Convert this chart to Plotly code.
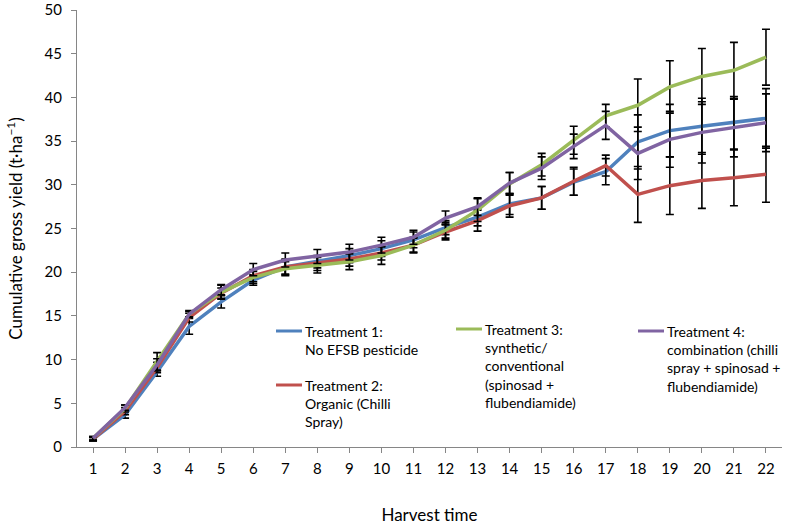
import plotly.graph_objects as go

# Harvest number (x axis categories)
harvest = list(range(1, 23))

# Cumulative gross yield (t/ha) per treatment, with error bar half-widths
t1_yield = [0.9, 3.7, 8.6, 13.8, 16.6, 19.1, 20.6, 21.2, 21.9, 22.7, 23.7,
            25.1, 26.3, 27.8, 28.5, 30.3, 31.5, 34.9, 36.2, 36.7, 37.1, 37.6]
t1_err = [0.2, 0.4, 0.5, 0.9, 0.7, 0.6, 0.8, 0.7, 0.8, 0.9, 0.9,
          0.8, 1.0, 1.2, 1.3, 1.5, 1.5, 3.1, 3.0, 3.2, 3.0, 3.4]

t2_yield = [0.9, 4.1, 9.1, 14.8, 17.6, 19.6, 20.6, 21.0, 21.5, 22.2, 23.1,
            24.6, 25.9, 27.6, 28.5, 30.4, 32.2, 28.9, 29.9, 30.5, 30.8, 31.2]
t2_err = [0.2, 0.4, 0.6, 0.5, 0.6, 0.7, 0.9, 0.8, 0.8, 0.8, 0.8,
          0.9, 1.2, 1.3, 1.3, 1.6, 1.2, 3.2, 3.3, 3.2, 3.2, 3.2]

t3_yield = [1.0, 4.4, 9.8, 15.2, 17.7, 19.4, 20.4, 20.8, 21.2, 21.9, 23.1,
            24.8, 27.1, 30.1, 32.3, 35.1, 37.9, 39.1, 41.2, 42.4, 43.1, 44.6]
t3_err = [0.2, 0.4, 1.0, 0.4, 0.8, 0.7, 0.8, 0.9, 0.9, 1.0, 0.9,
          0.9, 1.3, 1.3, 1.3, 1.6, 1.3, 3.0, 3.0, 3.2, 3.2, 3.2]

t4_yield = [1.0, 4.5, 9.4, 15.2, 18.0, 20.3, 21.4, 21.8, 22.3, 23.1, 24.0,
            26.2, 27.5, 30.2, 31.9, 34.4, 36.8, 33.6, 35.2, 36.0, 36.5, 37.1]
t4_err = [0.2, 0.3, 0.7, 0.3, 0.6, 0.7, 0.8, 0.8, 0.9, 0.9, 0.8,
          0.8, 1.0, 1.2, 1.3, 1.4, 1.6, 3.0, 3.2, 3.5, 3.3, 3.3]

labels = [
    "Treatment 1:<br>No EFSB pesticide",
    "Treatment 2:<br>Organic (Chilli<br>Spray)",
    "Treatment 3:<br>synthetic/<br>conventional<br>(spinosad +<br>flubendiamide)",
    "Treatment 4:<br>combination (chilli<br>spray + spinosad +<br>flubendiamide)",
]
colors = ["#4F81BD", "#C0504D", "#9BBB59", "#8064A2"]

y_ticks = list(range(0, 51, 5))

FONT = "Lato, 'Open Sans', sans-serif"

fig = go.Figure()
series = [(t1_yield, t1_err), (t2_yield, t2_err), (t3_yield, t3_err), (t4_yield, t4_err)]
for (vals, errs), col, lab in zip(series, colors, labels):
    fig.add_trace(go.Scatter(
        x=harvest, y=vals, mode="lines", name=lab,
        line=dict(color=col, width=3.5),
        error_y=dict(type="data", array=errs, visible=True,
                     color="black", thickness=1.6, width=4),
        showlegend=False,
    ))

# Hand-placed legend: short colour line followed by wrapped label text
legend_pos = [  # (line x0, line x1, y of first text line) in pixels
    (276, 302, 331),
    (276, 302, 385),
    (456, 482, 329),
    (638, 664, 331),
]
W, H = 791, 525
ML, MR, MT, MB = 77, 9, 10, 78
pw, ph = W - ML - MR, H - MT - MB


def px_to_paper(x, y):
    return (x - ML) / pw, (H - MB - y) / ph


for (x0, x1, yl), col, lab in zip(legend_pos, colors, labels):
    a0 = px_to_paper(x0, yl)
    a1 = px_to_paper(x1, yl)
    fig.add_shape(type="line", xref="paper", yref="paper",
                  x0=a0[0], x1=a1[0], y0=a0[1], y1=a1[1],
                  line=dict(color=col, width=3))
    tx, ty = px_to_paper(x1 + 1, yl - 10)
    fig.add_annotation(xref="paper", yref="paper", x=tx, y=ty,
                       xanchor="left", yanchor="top", align="left",
                       text=lab, showarrow=False,
                       font=dict(family=FONT, size=14, color="black"))

axis_line = "#868686"
fig.update_layout(
    width=W, height=H,
    margin=dict(l=ML, r=MR, t=MT, b=MB),
    paper_bgcolor="white", plot_bgcolor="white",
    font=dict(family=FONT, size=15, color="black"),
    xaxis=dict(
        range=[0.5, 22.5], tickmode="array", tickvals=harvest,
        ticktext=[str(h) for h in harvest],
        showgrid=False, zeroline=False, automargin=False,
        showline=True, linecolor=axis_line, linewidth=1,
        ticks="outside", ticklen=5, tickcolor=axis_line,
        tickfont=dict(size=15), ticklabelstandoff=3,
        title=dict(text="Harvest time", font=dict(size=17), standoff=36),
    ),
    yaxis=dict(
        range=[0, 50], tickvals=y_ticks,
        showgrid=False, zeroline=False, automargin=False,
        showline=True, linecolor=axis_line, linewidth=1,
        ticks="outside", ticklen=5, tickcolor=axis_line,
        tickfont=dict(size=15), ticklabelstandoff=6,
        title=dict(text="Cumulative gross yield (t·ha<sup>−1</sup>)",
                   font=dict(size=17), standoff=17),
    ),
)

# Tick marks between categories on the x axis
fig.update_xaxes(tickson="boundaries")

fig.write_html("out.html")
